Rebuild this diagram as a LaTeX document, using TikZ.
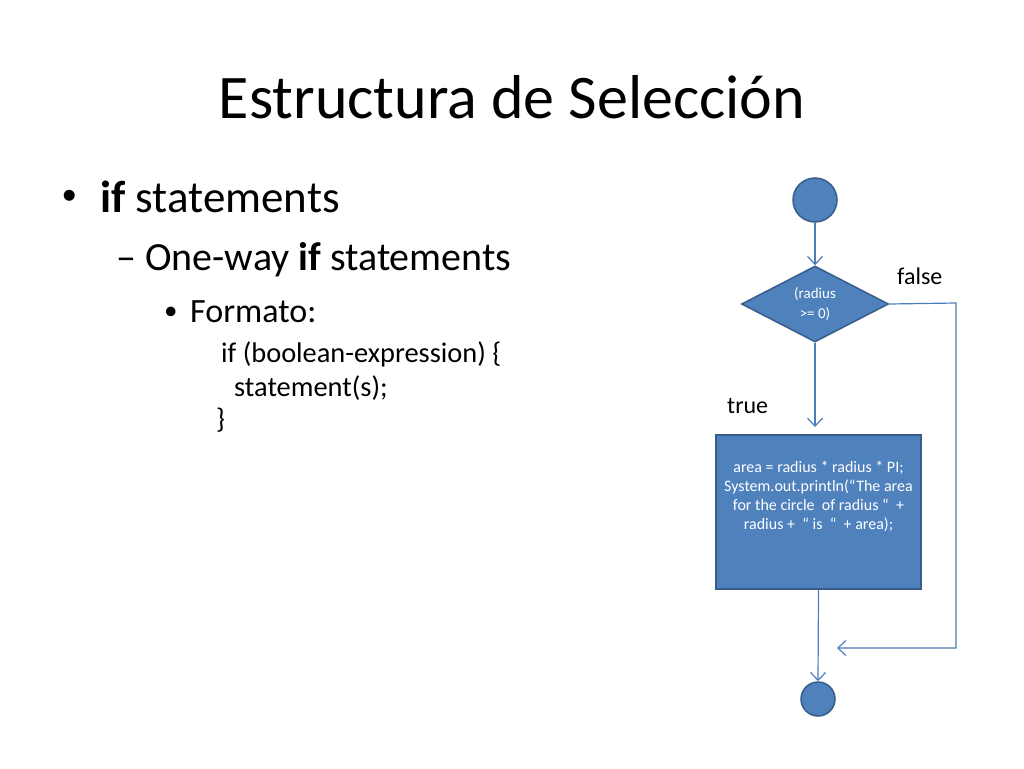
\documentclass[tikz,border=0pt]{standalone}
\usepackage{fontspec}
\setmainfont{Carlito}
\usetikzlibrary{arrows.meta,shapes.geometric}
\definecolor{nodefill}{HTML}{4F81BD}
\definecolor{nodeline}{HTML}{385D8A}
\definecolor{arrowc}{HTML}{4A7EBB}
\tikzset{
  txt/.style={anchor=base west, inner sep=0pt, text=black},
  flow/.style={draw=nodeline, fill=nodefill, line width=1.5pt, text=white},
  conn/.style={draw=arrowc, line width=1.2pt, -{Straight Barb[length=8pt,width=15pt,line width=1.2pt]}},
}
\begin{document}
\begin{tikzpicture}[x=1pt,y=-1pt]
\useasboundingbox (0,0) rectangle (1024,768);
% title
\node[anchor=base, inner sep=0pt] (title) at (512,118) {\fontsize{62}{70}\selectfont Estructura de Selección};
% bullets
\node[txt] (b1) at (61.5,204) {\fontsize{31}{36}\selectfont •};
\node[txt] (l1) at (100,212) {\fontsize{45}{54}\selectfont \textbf{if} statements};
\node[txt] (b2) at (116,270) {\fontsize{40}{48}\selectfont –};
\node[txt] (l2) at (145,270) {\fontsize{40}{48}\selectfont One-way \textbf{if} statements};
\node[txt] (b3) at (164,319) {\fontsize{27}{32}\selectfont •};
\node[txt] (l3) at (190,322) {\fontsize{34}{40}\selectfont Formato:};
\node[txt] (c1) at (221,362) {\fontsize{28.4}{34}\selectfont if (boolean-expression) \{};
\node[txt] (c2) at (234,396) {\fontsize{28.4}{34}\selectfont statement(s);};
\node[txt] (c3) at (216,428) {\fontsize{28.4}{34}\selectfont \}};
% flowchart
\node[flow, circle, minimum size=44pt, inner sep=0pt] (start) at (815,200) {};
\node[flow, diamond, minimum width=147pt, minimum height=76pt, inner sep=0pt, aspect=1.93,
      align=center, font=\fontsize{15}{20}\selectfont] (dec) at (815,304) {(radius\\>= 0)};
\node[flow, rectangle, minimum width=205pt, minimum height=154pt, inner sep=0pt,
      align=center, font=\fontsize{16}{19}\selectfont] (box) at (818.5,512)
  {area = radius * radius * PI;\\System.out.println(“The area\\for the circle\ \ of radius “\ \ +\\radius +\ \ “ is\ \ “\ \ + area);\\[14pt]\mbox{}};
\node[flow, circle, minimum size=34pt, inner sep=0pt] (end) at (818,699) {};
\coordinate (fr) at (956,303);
\coordinate (fb) at (956,648);
\coordinate (fe) at (837,648);
\coordinate (te) at (815,427);
\draw[conn] (start) -- (dec);
\draw[conn] (dec.south) -- (te);
\draw[conn] (box.south) -- (end.north);
\draw[conn] (dec.east) -- (fr) -- (fb) -- (fe);
\node[txt] (lf) at (897,284) {\fontsize{24}{28}\selectfont false};
\node[txt] (lt) at (727,413) {\fontsize{24}{28}\selectfont true};
\end{tikzpicture}
\end{document}
